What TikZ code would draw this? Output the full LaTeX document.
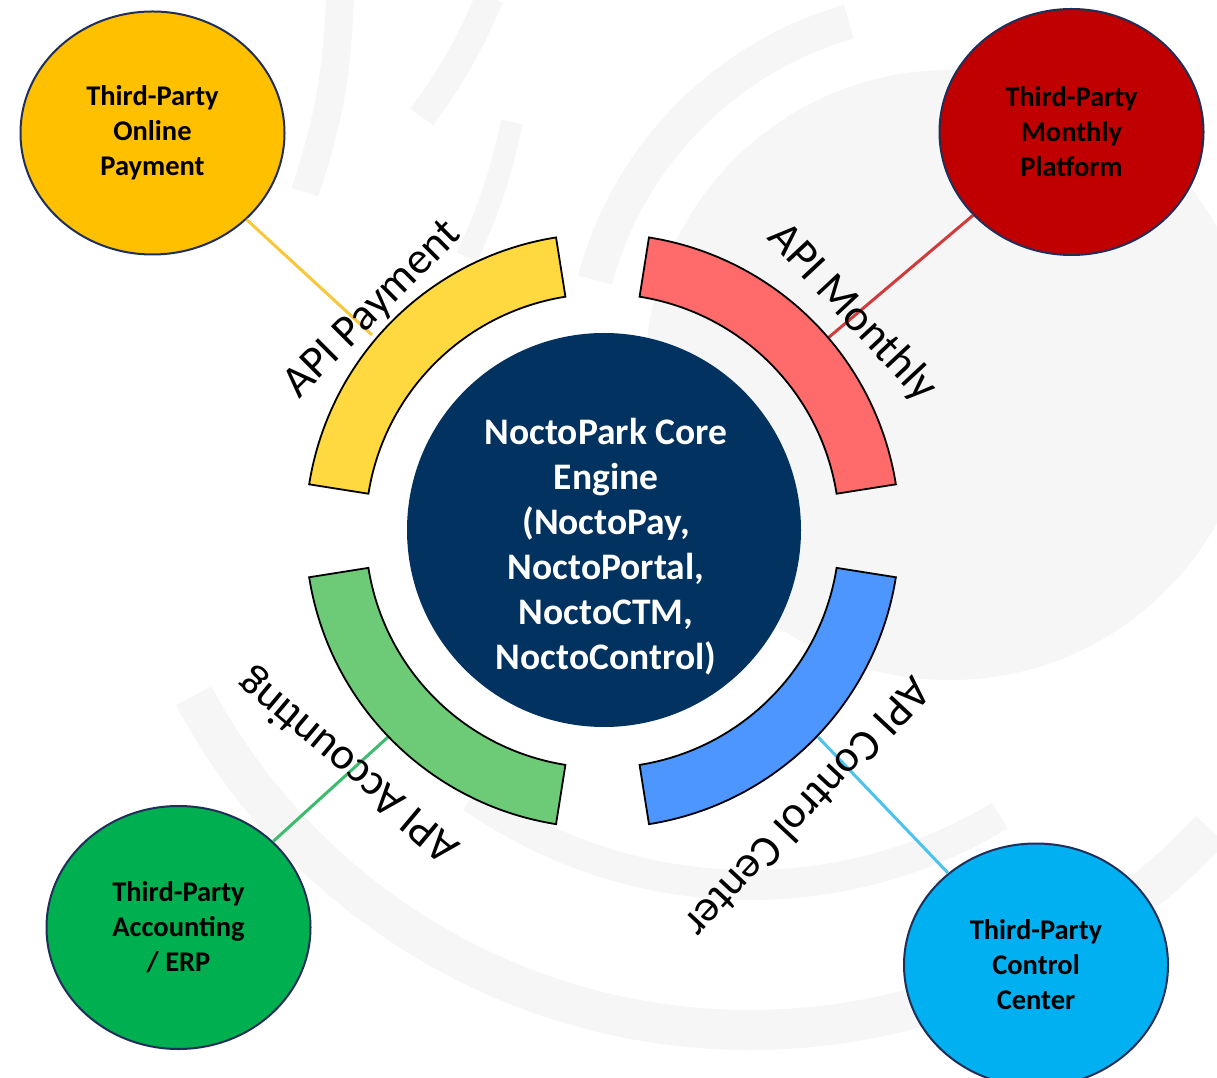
\documentclass[tikz,border=0pt]{standalone}
\usepackage{fontspec}
\setmainfont{Carlito}
\usetikzlibrary{shapes.geometric}
\definecolor{wm}{HTML}{F6F6F6}
\definecolor{navy}{HTML}{02325F}
\definecolor{rim}{HTML}{1F2F5A}
\definecolor{cYel}{HTML}{FFC000}
\definecolor{cRed}{HTML}{C00000}
\definecolor{cGrn}{HTML}{00AF50}
\definecolor{cBlu}{HTML}{00B0F0}
\definecolor{aYel}{HTML}{FFD93F}
\definecolor{aRed}{HTML}{FF6B6B}
\definecolor{aGrn}{HTML}{6DCB78}
\definecolor{aBlu}{HTML}{4D96FF}
\definecolor{lYel}{HTML}{F9C83A}
\definecolor{lRed}{HTML}{D03C3C}
\definecolor{lGrn}{HTML}{3DBB6E}
\definecolor{lBlu}{HTML}{4CC2EE}
\tikzset{
  ell/.style={ellipse, draw=rim, line width=2, minimum width=264, minimum height=243, inner sep=0, align=center,
    font=\fontsize{28.5}{35}\selectfont\bfseries, text=black},
  core/.style={circle, fill=navy, minimum size=394, inner sep=0},
  coretext/.style={align=center, inner sep=0, font=\fontsize{37.5}{45}\selectfont\bfseries, text=white},
  ringseg/.style={draw=black, line width=1.8},
  lbl/.style={font=\fontsize{45}{50}\selectfont, text=black, inner sep=0},
  link/.style={line width=3}
}
\begin{document}
\begin{tikzpicture}[x=1pt,y=1pt]
\useasboundingbox (0,0) rectangle (1217,1077);
\fill[white] (0,0) rectangle (1217,1077);
% faint watermark
\begin{scope}
\clip (0,0) rectangle (1217,1077);
\fill[wm] (950,702) circle[radius=305];
\fill[wm] ([shift={(950,702)}]106:385) arc[start angle=106,end angle=165,radius=385]
  -- ([shift={(950,702)}]165:350) arc[start angle=165,end angle=106,radius=350] -- cycle;
\fill[wm] ([shift={(750,677)}]-125:500) arc[start angle=-125,end angle=-59,radius=500]
  -- ([shift={(750,677)}]-59:470) arc[start angle=-59,end angle=-125,radius=470] -- cycle;
\fill[wm] ([shift={(750,677)}]-152:650) arc[start angle=-152,end angle=-43,radius=650]
  -- ([shift={(750,677)}]-43:610) arc[start angle=-43,end angle=-152,radius=610] -- cycle;
\draw[wm, line width=28] (340,1080) to[bend left=8] (305,885);
\draw[wm, line width=28] (490,1080) to[bend left=6] (422,960);
\draw[wm, line width=22] (512,955) to[bend left=6] (467,820);
\end{scope}

\coordinate (C) at (602.5,546.2);
\coordinate (eY) at (372,742);
\coordinate (eR) at (828,739);
\coordinate (eG) at (388,340);
\coordinate (eB) at (818,340);

% outer circles
\node[ell, fill=cYel] (pay) at (152.5,944) {Third-Party\\Online\\Payment};
\node[ell, fill=cRed, minimum height=246] (mon) at (1071.5,945) {Third-Party\\Monthly\\Platform};
\node[ell, fill=cGrn] (acc) at (178.5,149.5) {Third-Party\\Accounting\\/ ERP};
\node[ell, fill=cBlu] (ctl) at (1036,112) {Third-Party\\Control\\Center};

% connectors
\draw[link, lYel] (pay) -- (eY);
\draw[link, lRed] (mon) -- (eR);
\draw[link, lGrn] (acc) -- (eG);
\draw[link, lBlu] (ctl) -- (eB);

% ring segments
\begin{scope}[shift={(C)}]
\draw[ringseg, fill=aYel] (99:237) -- (99:297) arc[start angle=99,end angle=171,radius=297] -- (171:237) arc[start angle=171,end angle=99,radius=237] -- cycle;
\draw[ringseg, fill=aRed] (9:237) -- (9:297) arc[start angle=9,end angle=81,radius=297] -- (81:237) arc[start angle=81,end angle=9,radius=237] -- cycle;
\draw[ringseg, fill=aGrn] (189:237) -- (189:297) arc[start angle=189,end angle=261,radius=297] -- (261:237) arc[start angle=261,end angle=189,radius=237] -- cycle;
\draw[ringseg, fill=aBlu] (279:237) -- (279:297) arc[start angle=279,end angle=351,radius=297] -- (351:237) arc[start angle=351,end angle=279,radius=237] -- cycle;
\end{scope}

% core
\node[core] (engine) at (604,547) {};
\node[coretext] (enginetxt) at (606,530) {NoctoPark Core\\Engine\\(NoctoPay,\\NoctoPortal,\\NoctoCTM,\\NoctoControl)};

% labels
\node[lbl, rotate=45] (lpay) at (373,767) {API Payment};
\node[lbl, rotate=-47] (lmon) at (852,764) {API Monthly};
\node[lbl, rotate=140] (lacc) at (349,312) {API Accounting};
\node[lbl, rotate=-133] (lctl) at (808,268) {API Control Center};
\end{tikzpicture}
\end{document}
